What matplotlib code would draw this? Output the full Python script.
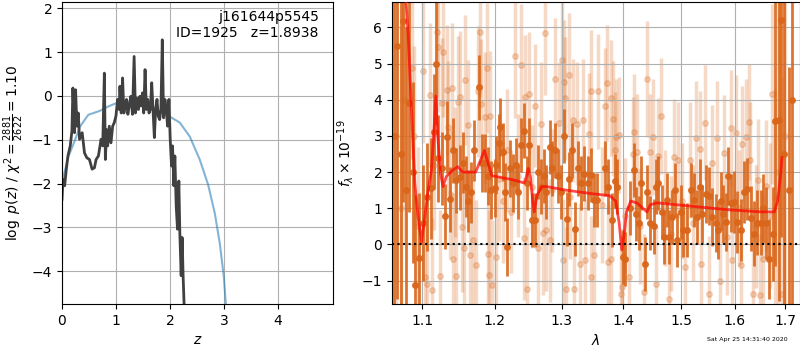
import numpy as np
import matplotlib
matplotlib.use('Agg')
import matplotlib.pyplot as plt
from matplotlib.ticker import NullLocator, FixedLocator, FixedFormatter

# --- p(z) panel ---
pz_z = [0.000, 0.018, 0.049, 0.080, 0.110, 0.153, 0.184, 0.202, 0.233, 0.252,
        0.276, 0.301, 0.325, 0.374, 0.417, 0.460, 0.509, 0.558, 0.601, 0.632,
        0.675, 0.724, 0.755, 0.785, 0.804, 0.828, 0.847, 0.877, 0.908, 0.939,
        0.969, 1.000, 1.031, 1.061, 1.074, 1.098, 1.123, 1.147, 1.172, 1.196,
        1.221, 1.245, 1.276, 1.307, 1.337, 1.362, 1.387, 1.417, 1.442, 1.466,
        1.491, 1.515, 1.540, 1.564, 1.589, 1.613, 1.638, 1.663, 1.687, 1.712,
        1.736, 1.761, 1.785, 1.810, 1.834, 1.859, 1.883, 1.908, 1.933, 1.957,
        1.982, 2.006, 2.031, 2.049, 2.074, 2.092, 2.117, 2.141, 2.166, 2.184,
        2.209, 2.227, 2.245, 2.264, 2.276]
pz_logp = [-2.36, -1.90, -2.05, -1.67, -1.37, -1.14, -0.80, 0.18, -0.84, 0.14,
           -0.69, -0.39, -0.99, -0.84, -1.30, -1.41, -1.45, -1.67, -1.64, -1.45,
           -1.37, -0.99, -1.14, 0.52, -1.45, -0.77, -1.14, -0.69, -1.07, -0.69,
           -0.61, -0.46, -0.08, -0.31, 0.22, -0.39, 0.41, -0.39, -0.23, -0.08,
           -0.42, -0.23, -0.01, -0.42, 0.90, -0.39, -0.05, -0.31, -0.01, -0.23,
           0.07, -0.39, 0.60, -0.31, -0.08, -0.39, -0.31, 0.30, -0.31, -0.95,
           -0.31, -0.08, -0.46, -0.54, -0.31, 1.28, -0.50, -0.08, -0.31, -0.69,
           -0.08, -0.99, -1.60, -1.14, -2.05, -1.37, -2.51, -3.04, -1.94, -3.11,
           -4.10, -3.23, -4.10, -4.78, -5.40]

prior_z = [0.012, 0.117, 0.240, 0.333, 0.488, 0.704, 0.858, 1.074, 1.383, 1.630,
           1.940, 2.185, 2.370, 2.556, 2.710, 2.833, 2.926, 3.000, 3.037, 3.060]
prior_logp = [-1.92, -1.39, -1.01, -0.70, -0.43, -0.34, -0.24, -0.13, -0.13, -0.24,
              -0.43, -0.61, -0.93, -1.46, -2.03, -2.68, -3.37, -4.13, -4.74, -5.20]

# --- spectrum panel ---
dark_wave = [1.0640, 1.0680, 1.0720, 1.0757, 1.0790, 1.0822, 1.0874, 1.0908, 1.0960, 1.1010,
             1.1062, 1.1119, 1.1164, 1.1185, 1.1217, 1.1260, 1.1305, 1.1327, 1.1372, 1.1417,
             1.1462, 1.1506, 1.1552, 1.1597, 1.1628, 1.1664, 1.1710, 1.1778, 1.1812, 1.1857,
             1.1900, 1.1940, 1.2003, 1.2021, 1.2059, 1.2082, 1.2116, 1.2153, 1.2178, 1.2226,
             1.2260, 1.2308, 1.2337, 1.2386, 1.2435, 1.2469, 1.2503, 1.2542, 1.2592, 1.2642,
             1.2691, 1.2731, 1.2766, 1.2816, 1.2851, 1.2891, 1.2942, 1.2993, 1.3044, 1.3085,
             1.3122, 1.3163, 1.3216, 1.3263, 1.3306, 1.3349, 1.3413, 1.3466, 1.3510, 1.3560,
             1.3690, 1.3744, 1.3810, 1.3854, 1.3898, 1.3993, 1.4032, 1.4106, 1.4179, 1.4219,
             1.4258, 1.4304, 1.4372, 1.4406, 1.4446, 1.4520, 1.4560, 1.4601, 1.4659, 1.4706,
             1.4751, 1.4793, 1.4833, 1.4891, 1.4938, 1.4997, 1.5045, 1.5117, 1.5176, 1.5238,
             1.5298, 1.5347, 1.5390, 1.5456, 1.5517, 1.5567, 1.5641, 1.5690, 1.5735, 1.5778,
             1.5829, 1.5878, 1.5924, 1.5987, 1.6050, 1.6115, 1.6179, 1.6243, 1.6310, 1.6375,
             1.6441, 1.6509, 1.6555, 1.6609, 1.6675, 1.6741, 1.6796, 1.6864, 1.6913, 1.6981,
             1.7083, 1.7140]
dark_flux = [3.0, 5.5, 2.5, 6.17, 1.5, 3.9, 2.0, -1.13, -0.38, 0.6,
             1.31, 1.55, 3.12, 5.0, 2.38, 2.1, 0.78, 2.97, 1.25, 2.6,
             1.77, 1.86, 2.26, 1.6, 1.2, 1.44, 2.6, 4.34, 2.24, 2.24,
             1.9, 1.5, 1.55, 2.2, 2.8, 3.25, 2.55, 1.45, -0.07, 2.1,
             1.7, 2.2, 1.45, 2.75, 3.15, 1.7, 2.75, 0.67, 0.67, 2.0,
             1.6, 1.9, 1.45, 2.7, 2.1, 2.6, 1.9, 1.45, 3.0, 0.7,
             1.8, 2.6, 0.42, 2.1, 1.7, 1.96, 1.7, 1.92, 1.23, 1.23,
             2.1, 1.6, 0.67, 1.75, 1.6, -0.35, -0.4, 1.0, 2.05, 0.85,
             0.6, 1.7, -0.55, 1.45, 0.6, 0.5, 1.6, 1.7, 0.9, 0.2,
             1.23, 0.2, 0.75, 1.5, 0.12, 0.9, 0.4, 0.4, 1.5, 1.23,
             0.75, 1.6, 0.85, 1.4, 1.35, 0.75, 0.6, 0.4, 1.2, 0.85,
             0.62, 1.9, 1.15, 1.18, 0.62, 0.4, 1.45, 1.53, 0.72, 0.3,
             0.6, 0.6, 1.0, 0.6, -0.4, 0.3, 3.4, 3.45, 6.2, 2.5,
             1.5, 4.0]
dark_err = [8.0, 7.0, 6.0, 5.0, 4.5, 3.0, 2.5, 2.5, 1.8, 1.6,
            1.5, 1.4, 1.6, 1.7, 1.2, 1.0, 0.9, 1.0, 0.9, 0.9,
            0.9, 0.9, 0.85, 0.85, 0.85, 0.85, 0.85, 0.9, 0.8, 0.8,
            0.8, 0.8, 0.8, 0.8, 0.8, 0.8, 0.8, 0.8, 0.8, 0.8,
            0.8, 0.75, 0.75, 0.75, 0.75, 0.75, 0.75, 0.75, 0.75, 0.75,
            0.75, 0.75, 0.75, 0.75, 0.75, 0.75, 0.75, 0.75, 0.75, 0.75,
            0.75, 0.75, 0.75, 0.75, 0.75, 0.75, 0.75, 0.75, 0.75, 0.75,
            0.75, 0.75, 0.75, 0.75, 0.75, 0.75, 0.75, 0.75, 0.75, 0.75,
            0.75, 0.75, 0.75, 0.75, 0.75, 0.75, 0.75, 0.75, 0.75, 0.75,
            0.75, 0.75, 0.75, 0.75, 0.75, 0.75, 0.75, 0.75, 0.75, 0.75,
            0.75, 0.75, 0.8, 0.8, 0.8, 0.8, 0.8, 0.8, 0.8, 0.8,
            0.8, 0.8, 0.8, 0.85, 0.85, 0.85, 0.85, 0.85, 0.9, 0.9,
            0.9, 0.9, 0.95, 1.0, 1.1, 1.3, 4.0, 5.0, 6.0, 7.0,
            3.4, 6.0]

light_wave = [1.0660, 1.0720, 1.0780, 1.0865, 1.0887, 1.0950, 1.1018, 1.1040, 1.1062, 1.1106,
              1.1128, 1.1160, 1.1195, 1.1217, 1.1239, 1.1261, 1.1283, 1.1327, 1.1350, 1.1380,
              1.1404, 1.1417, 1.1440, 1.1462, 1.1485, 1.1506, 1.1538, 1.1566, 1.1583, 1.1628,
              1.1655, 1.1688, 1.1737, 1.1764, 1.1792, 1.1811, 1.1857, 1.1893, 1.1902, 1.1921,
              1.1939, 1.1962, 1.2012, 1.2060, 1.2120, 1.2180, 1.2240, 1.2298, 1.2340, 1.2386,
              1.2421, 1.2445, 1.2469, 1.2503, 1.2550, 1.2592, 1.2642, 1.2681, 1.2716, 1.2740,
              1.2766, 1.2816, 1.2860, 1.2901, 1.2968, 1.3003, 1.3018, 1.3044, 1.3054, 1.3075,
              1.3112, 1.3140, 1.3173, 1.3199, 1.3240, 1.3293, 1.3331, 1.3373, 1.3436, 1.3463,
              1.3474, 1.3516, 1.3579, 1.3640, 1.3698, 1.3731, 1.3742, 1.3786, 1.3797, 1.3825,
              1.3853, 1.3880, 1.3920, 1.3963, 1.3975, 1.4030, 1.4088, 1.4161, 1.4178, 1.4235,
              1.4290, 1.4350, 1.4407, 1.4448, 1.4505, 1.4563, 1.4592, 1.4640, 1.4710, 1.4780,
              1.4830, 1.4874, 1.4945, 1.5010, 1.5077, 1.5156, 1.5220, 1.5276, 1.5338, 1.5368,
              1.5447, 1.5508, 1.5569, 1.5661, 1.5722, 1.5796, 1.5860, 1.5919, 1.5938, 1.6032,
              1.6080, 1.6127, 1.6146, 1.6223, 1.6274, 1.6301, 1.6352, 1.6410, 1.6450, 1.6484,
              1.6550, 1.6618, 1.6680, 1.6739, 1.6785, 1.6850, 1.6921, 1.7000]
light_flux = [3.0, 1.0, 4.0, 4.87, 2.99, 0.5, 4.8, -0.9, -1.08, 4.13,
              -1.27, 2.2, 5.87, 5.47, -0.86, 3.9, 5.33, 4.28, 3.26, 1.4,
              4.32, -0.39, 2.0, -0.88, 3.95, 4.09, 0.49, -0.11, 4.55, 3.3,
              -0.3, 0.12, -0.57, 4.23, 5.87, 3.88, 3.51, 4.87, -0.25, -0.84,
              3.55, -1.13, -0.34, 1.8, 1.2, 2.6, 0.9, 5.2, 1.9, 4.95,
              0.17, 4.09, -1.22, 4.17, 1.6, 3.83, -0.11, 3.34, 0.31, 5.84,
              0.4, 0.12, 1.5, 4.57, 3.35, 5.1, -0.44, 4.5, 4.04, -1.22,
              4.69, 1.3, 3.44, -1.22, 3.34, -0.55, 3.44, -0.44, 3.04, -0.9,
              4.23, -0.3, 4.23, 1.1, 3.83, 4.46, -0.48, 4.04, -0.39, 3.48,
              2.62, 2.97, 3.02, -1.36, -1.18, 0.8, -0.9, 2.49, 3.1, 2.55,
              0.5, -1.31, 4.57, 2.55, 2.97, -1.08, 2.45, 3.55, 1.0, -1.5,
              0.3, 2.42, 2.33, 1.2, -0.62, 2.33, 0.6, 2.93, 2.65, -0.53,
              3.37, -1.36, 2.25, 2.93, -1.02, 2.52, 0.2, 3.21, -0.44, 3.09,
              1.0, -0.57, 2.79, 2.97, 3.39, 2.33, -1.36, 0.5, 1.77, -1.41,
              -0.39, 1.63, 0.8, 4.16, 1.31, 2.0, -1.36, 3.0]
light_err = [6.0, 5.0, 4.0, 2.5, 2.5, 2.2, 2.0, 2.0, 2.0, 2.0,
             2.0, 1.8, 1.8, 1.8, 1.8, 1.8, 1.8, 1.8, 1.8, 1.8,
             1.8, 1.8, 1.8, 1.8, 1.8, 1.8, 1.8, 1.8, 1.8, 1.8,
             1.8, 1.8, 1.8, 1.8, 1.8, 1.8, 1.8, 1.8, 1.8, 1.8,
             1.8, 1.8, 1.7, 1.7, 1.7, 1.7, 1.7, 1.7, 1.7, 1.7,
             1.7, 1.7, 1.7, 1.7, 1.7, 1.7, 1.7, 1.7, 1.7, 1.7,
             1.7, 1.7, 1.7, 1.7, 1.7, 1.7, 1.7, 1.7, 1.7, 1.7,
             1.7, 1.7, 1.7, 1.7, 1.7, 1.7, 1.7, 1.7, 1.7, 1.7,
             1.7, 1.7, 1.6, 1.6, 1.6, 1.6, 1.6, 1.6, 1.6, 1.6,
             1.6, 1.6, 1.6, 1.6, 1.6, 1.6, 1.6, 1.6, 1.6, 1.6,
             1.6, 1.6, 1.6, 1.6, 1.6, 1.6, 1.6, 1.6, 1.6, 1.6,
             1.6, 1.6, 1.6, 1.6, 1.6, 1.6, 1.6, 1.6, 1.6, 1.6,
             1.6, 1.6, 1.6, 1.6, 1.6, 1.6, 1.6, 1.6, 1.6, 1.6,
             1.6, 1.6, 1.6, 1.6, 1.6, 1.6, 1.7, 1.7, 1.7, 1.7,
             1.8, 1.8, 2.0, 2.5, 3.0, 5.0, 6.0, 6.0]

model_wave = [1.0740, 1.0774, 1.0817, 1.0861, 1.0904, 1.0947, 1.0992, 1.1036, 1.1079, 1.1124,
              1.1155, 1.1182, 1.1212, 1.1244, 1.1279, 1.1324, 1.1413, 1.1480, 1.1548, 1.1729,
              1.1799, 1.1853, 1.1912, 1.1958, 1.2097, 1.2286, 1.2429, 1.2453, 1.2491, 1.2525,
              1.2559, 1.2582, 1.2622, 1.2696, 1.2771, 1.3075, 1.3500, 1.3772, 1.3872, 1.3929,
              1.3973, 1.4014, 1.4053, 1.4124, 1.4227, 1.4331, 1.4401, 1.4460, 1.4578, 1.5242,
              1.5868, 1.6513, 1.6776, 1.6842, 1.6908, 1.6929]
model_flux = [8.5, 7.2, 5.85, 3.72, 1.69, 0.77, 0.07, 0.77, 1.5, 2.06,
              3.08, 4.1, 2.9, 1.97, 1.6, 1.88, 2.06, 2.15, 2.0, 2.0,
              2.34, 2.6, 2.2, 1.9, 1.85, 1.78, 1.7, 1.8, 2.1, 1.85,
              1.2, 0.9, 1.35, 1.6, 1.6, 1.5, 1.4, 1.35, 1.2, 0.6,
              -0.15, 0.3, 0.9, 1.2, 1.15, 1.0, 0.9, 1.1, 1.15, 1.05,
              0.96, 0.9, 0.9, 1.2, 2.0, 2.4]

wave_ticks = [1.1, 1.2, 1.3, 1.4, 1.5, 1.6, 1.7]
orange = '#d9661a'

fig = plt.figure(figsize=(8, 3.5), dpi=100)
ax1 = fig.add_axes([0.0775, 0.131, 0.3385, 0.863])
ax2 = fig.add_axes([0.49, 0.131, 0.51, 0.863])

# left: p(z)
ax1.plot(prior_z, prior_logp, color='tab:blue', alpha=0.55, lw=1.5)
ax1.plot(pz_z, pz_logp, color='0.25', lw=2)
ax1.set_xlim(0, 5.02)
ax1.set_ylim(-4.75, 2.14)
ax1.set_xticks([0, 1, 2, 3, 4])
ax1.set_xlabel(r'$z$')
ax1.set_ylabel(r'$\log\ p(z)$ / $\chi^2=\frac{2881}{2622}=1.10$')
ax1.text(0.948, 0.975, 'j161644p5545\nID=1925   z=1.8938', transform=ax1.transAxes,
         ha='right', va='top', fontsize=10)
ax1.grid(True)

# right: spectrum
ax2.errorbar(light_wave, light_flux, light_err, color=orange, alpha=0.25,
             marker='o', ms=4, linestyle='None', elinewidth=2.5, zorder=1)
ax2.errorbar(dark_wave, dark_flux, dark_err, color=orange, alpha=0.9,
             marker='o', ms=4, linestyle='None', elinewidth=2, zorder=2)
ax2.plot(model_wave, model_flux, color='r', alpha=0.7, lw=2, zorder=3)
ax2.axhline(0, color='k', linestyle=':', lw=1.5, zorder=4)
ax2.set_xscale('log')
ax2.set_xlim(1.061, 1.73)
ax2.set_ylim(-1.65, 6.7)
ax2.xaxis.set_major_locator(FixedLocator(wave_ticks))
ax2.xaxis.set_major_formatter(FixedFormatter([str(w) for w in wave_ticks]))
ax2.xaxis.set_minor_locator(NullLocator())
ax2.set_xlabel(r'$\lambda$')
ax2.set_ylabel(r'$f_\lambda\times 10^{-19}$')
ax2.grid(True)

fig.text(0.985, 0.031, 'Sat Apr 25 14:31:40 2020', fontsize=4.5, ha='right', va='center')

fig.savefig('out.png', dpi=100)
